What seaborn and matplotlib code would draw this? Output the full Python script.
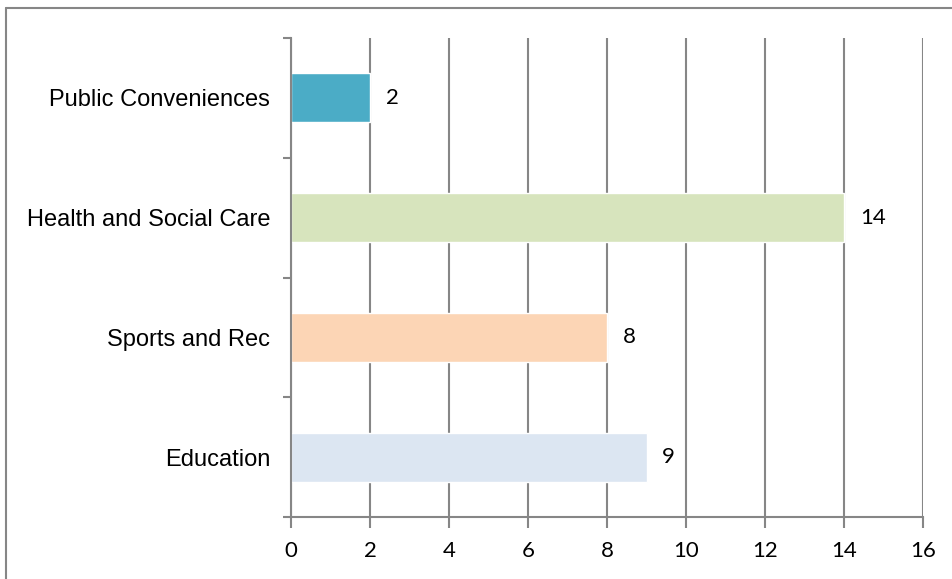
import matplotlib
matplotlib.use("Agg")
import matplotlib.pyplot as plt
import seaborn as sns
import pandas as pd
from matplotlib.lines import Line2D

categories = ["Public Conveniences", "Health and Social Care", "Sports and Rec", "Education"]
values = [2, 14, 8, 9]
colors = ["#4BACC6", "#D7E4BD", "#FCD5B5", "#DCE6F2"]
xticks = [0, 2, 4, 6, 8, 10, 12, 14, 16]

df = pd.DataFrame({"category": categories, "value": values})

sns.set_theme(style="white")
fig = plt.figure(figsize=(9.52, 5.79), dpi=100)
ax = fig.add_axes([291/952, 1-517/579, (923-291)/952, (517-38)/579])

sns.barplot(data=df, x="value", y="category", hue="category", palette=colors,
            order=categories, hue_order=categories, orient="h", width=0.41,
            legend=False, ax=ax, saturation=1)

ax.set_xlim(0, 16)
ax.set_ylim(3.5, -0.5)
ax.set_xticks(xticks)
ax.set_xticklabels([str(t) for t in xticks], fontsize=16, family=["Lato", "DejaVu Sans"], color="black")
ax.set_xlabel("")
ax.set_ylabel("")
ax.xaxis.grid(True, color="#868686", linewidth=1.5)
ax.set_axisbelow(True)
ax.set_yticks([-0.5, 0.5, 1.5, 2.5, 3.5], minor=False)
ax.set_yticklabels([])
ax.set_yticks([0, 1, 2, 3], minor=True)
ax.set_yticklabels(categories, minor=True, fontsize=17, family=["Liberation Sans", "DejaVu Sans"], color="black")
ax.tick_params(axis="y", which="minor", length=0, pad=15)
ax.tick_params(axis="y", which="major", length=6, width=1.5, color="#868686", direction="out", left=True)
ax.tick_params(axis="x", length=8, width=1.5, color="#868686", direction="out", bottom=True, pad=9)

for s in ["top", "right"]:
    ax.spines[s].set_visible(False)
for s in ["left", "bottom"]:
    ax.spines[s].set_color("#868686")
    ax.spines[s].set_linewidth(1.5)

for i, v in enumerate(values):
    ax.text(v + 0.4, i, str(v), va="center", ha="left", fontsize=16,
            family=["Lato", "DejaVu Sans"], color="black")

# outer frame: only top and left edges visible in the reference
fig.add_artist(Line2D([5.5/952, 1.0], [1-7.5/579, 1-7.5/579], transform=fig.transFigure,
                      color="#868686", linewidth=1.5))
fig.add_artist(Line2D([5.5/952, 5.5/952], [0, 1-7.5/579], transform=fig.transFigure,
                      color="#868686", linewidth=1.5))

fig.savefig("out.png", dpi=100)
